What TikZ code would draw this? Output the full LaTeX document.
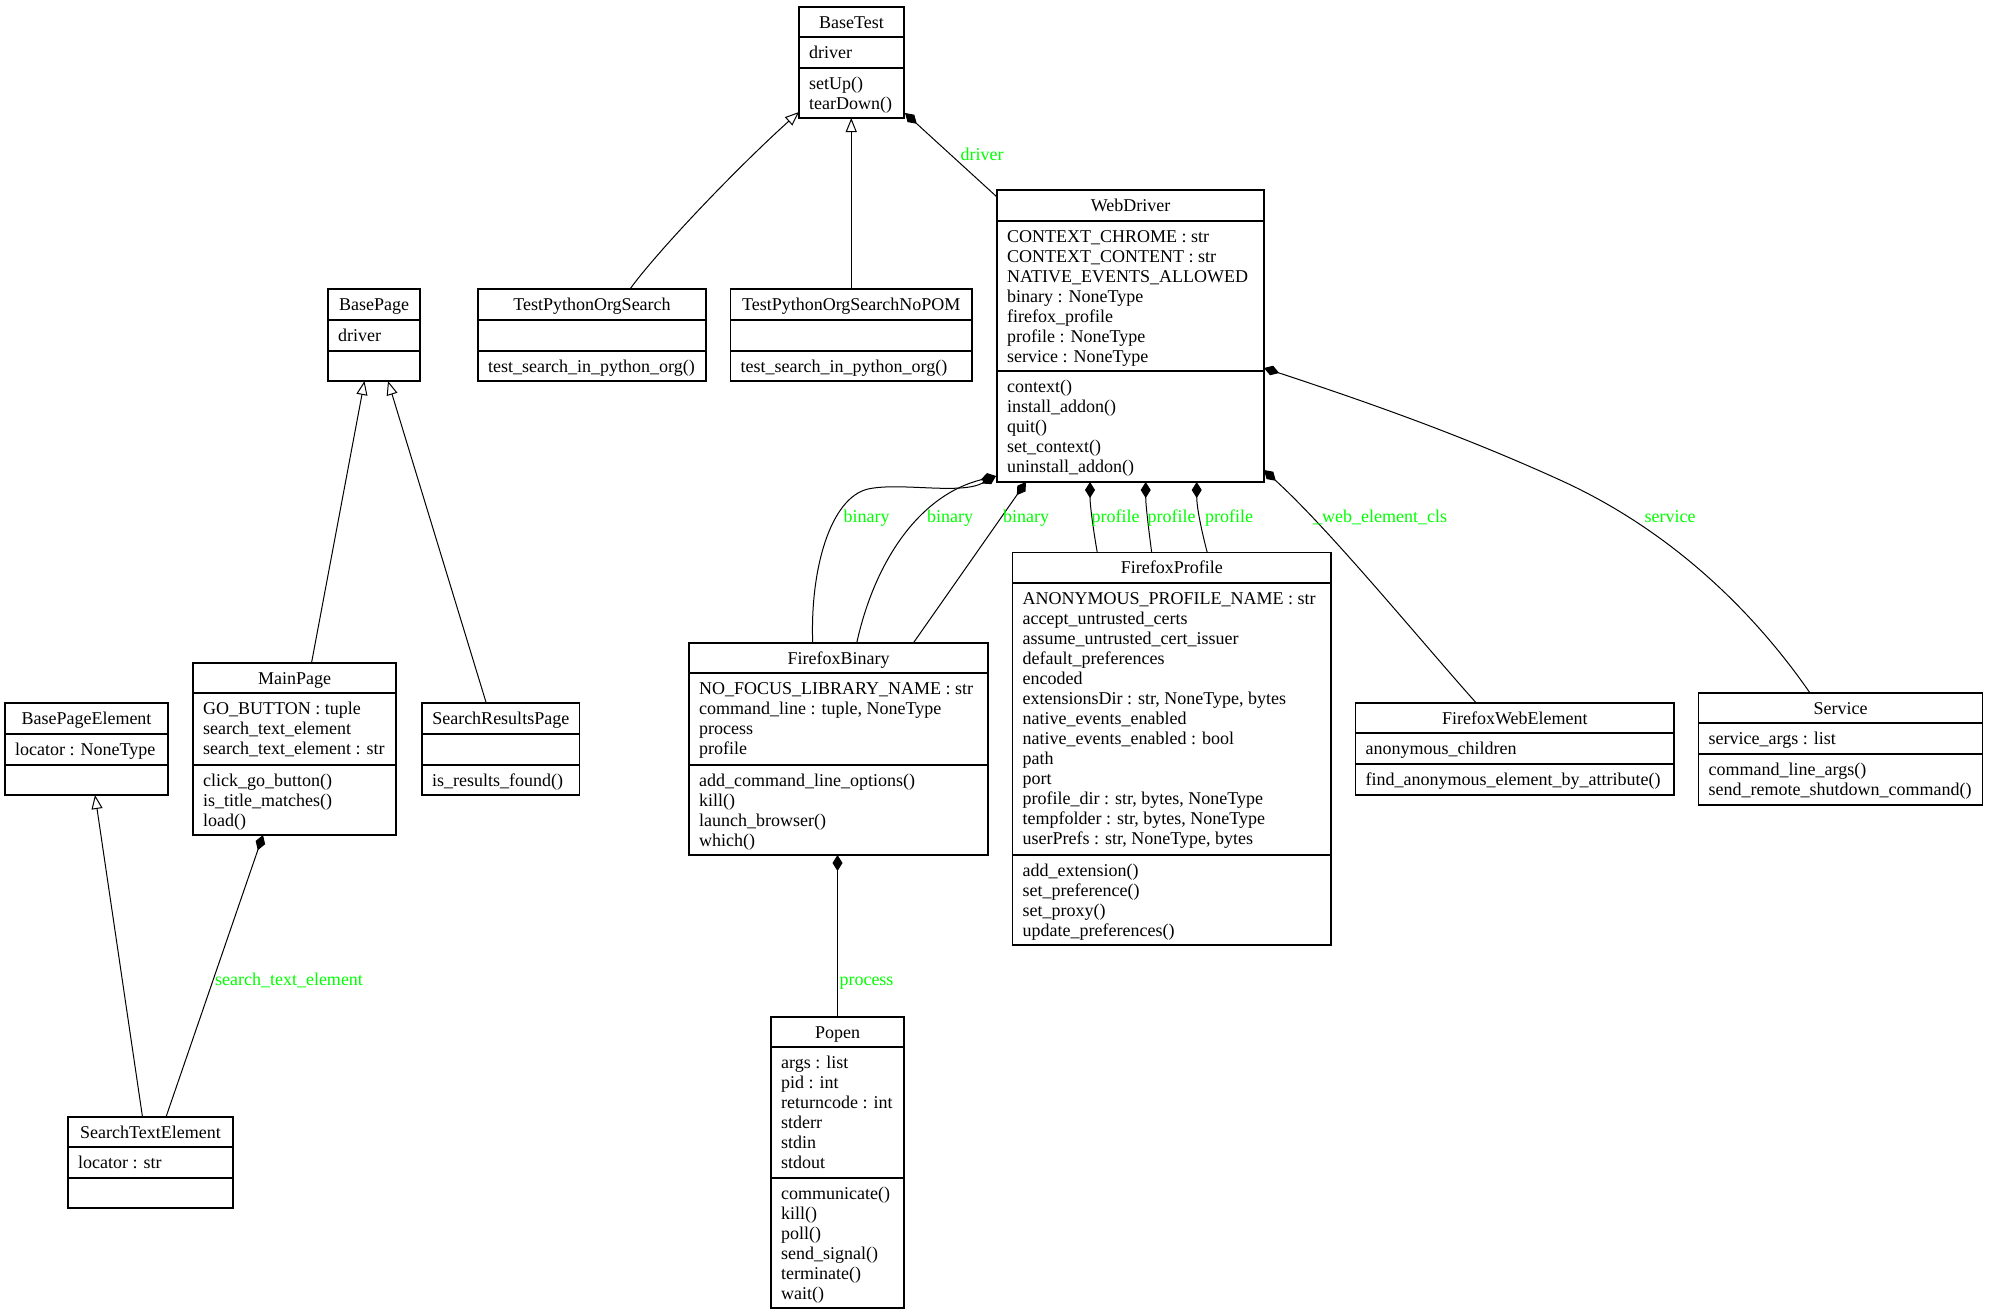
\documentclass[tikz,border=0pt]{standalone}
\usepackage{fontspec}
\setmainfont{Liberation Serif}
\usetikzlibrary{arrows.meta,calc}
\definecolor{lblgreen}{RGB}{0,255,0}
\tikzset{
  clsbox/.style={draw=black, line width=1.1pt, inner sep=0pt, outer sep=0pt, anchor=north west},
  clsline/.style={draw=black, line width=1.1pt},
  clstitle/.style={anchor=base, inner sep=0pt},
  clstext/.style={anchor=base west, inner sep=0pt},
  inherit/.style={draw=black, line width=1pt, -{Triangle[open,length=14pt,width=11pt]}},
  compose/.style={draw=black, line width=1pt, -{Diamond[length=16pt,width=10pt]}},
  elabel/.style={text=lblgreen, inner sep=0pt, anchor=base},
}
\newcommand\umlclass[6]{%
  \node[clsbox, minimum width=#4pt, minimum height=#5pt] (#1) at (#2,#3) {};
  \node[clstitle] (#1-title) at ($(#1.north)+(0,21)$) {#6};
}
\newcommand\umlsep[2]{\draw[clsline] ($(#1.north west)+(0,#2)$) -- ($(#1.north east)+(0,#2)$);}
\newcommand\umlrows[4]{%
  \foreach \t [count=\i from 0] in {#4} {\node[clstext] (#1-#2\i) at ($(#1.north west)+(10,{#3+20*\i})$) {\t};}
}
\begin{document}
\begin{tikzpicture}[x=1pt,y=-1pt,font=\fontsize{18}{20}\selectfont]
\useasboundingbox (0,0) rectangle (1992,1315);

% ---------- classes ----------
\umlclass{BaseTest}{799}{7}{105}{111}{BaseTest}
\umlsep{BaseTest}{30}\umlsep{BaseTest}{61}
\umlrows{BaseTest}{a}{51}{driver}
\umlrows{BaseTest}{m}{82}{setUp(), tearDown()}

\umlclass{WebDriver}{997}{190}{267}{292}{WebDriver}
\umlsep{WebDriver}{31}\umlsep{WebDriver}{181}
\umlrows{WebDriver}{a}{52}{CONTEXT\_CHROME : str, CONTEXT\_CONTENT : str, NATIVE\_EVENTS\_ALLOWED, binary : NoneType, firefox\_profile, profile : NoneType, service : NoneType}
\umlrows{WebDriver}{m}{202}{context(), install\_addon(), quit(), set\_context(), uninstall\_addon()}

\umlclass{BasePage}{328}{289}{92}{92}{BasePage}
\umlsep{BasePage}{31}\umlsep{BasePage}{62}
\umlrows{BasePage}{a}{52}{driver}

\umlclass{TPOS}{478}{289}{228}{92}{TestPythonOrgSearch}
\umlsep{TPOS}{31}\umlsep{TPOS}{62}
\umlrows{TPOS}{m}{83}{test\_search\_in\_python\_org()}

\umlclass{NoPOM}{730.5}{289}{241.5}{92}{TestPythonOrgSearchNoPOM}
\umlsep{NoPOM}{31}\umlsep{NoPOM}{62}
\umlrows{NoPOM}{m}{83}{test\_search\_in\_python\_org()}

\umlclass{MainPage}{193}{663}{203}{172}{MainPage}
\umlsep{MainPage}{30}\umlsep{MainPage}{102}
\umlrows{MainPage}{a}{51}{GO\_BUTTON : tuple, search\_text\_element, search\_text\_element : str}
\umlrows{MainPage}{m}{123}{click\_go\_button(), is\_title\_matches(), load()}

\umlclass{SRP}{422}{703}{157.5}{92}{SearchResultsPage}
\umlsep{SRP}{31}\umlsep{SRP}{62}
\umlrows{SRP}{m}{83}{is\_results\_found()}

\umlclass{BPE}{5}{703}{163}{92}{BasePageElement}
\umlsep{BPE}{31}\umlsep{BPE}{62}
\umlrows{BPE}{a}{52}{locator : NoneType}

\umlclass{STE}{68}{1117}{165}{91}{SearchTextElement}
\umlsep{STE}{30}\umlsep{STE}{61}
\umlrows{STE}{a}{51}{locator : str}

\umlclass{FB}{689}{643}{299}{212}{FirefoxBinary}
\umlsep{FB}{30}\umlsep{FB}{122}
\umlrows{FB}{a}{51}{NO\_FOCUS\_LIBRARY\_NAME : str, {command\_line : tuple, NoneType}, process, profile}
\umlrows{FB}{m}{143}{add\_command\_line\_options(), kill(), launch\_browser(), which()}

\umlclass{FP}{1012.5}{552.7}{318.5}{392.3}{FirefoxProfile}
\umlsep{FP}{30.3}\umlsep{FP}{302.3}
\umlrows{FP}{a}{51.3}{ANONYMOUS\_PROFILE\_NAME : str, accept\_untrusted\_certs, assume\_untrusted\_cert\_issuer, default\_preferences, encoded, {extensionsDir : str, NoneType, bytes}, native\_events\_enabled, native\_events\_enabled : bool, path, port, {profile\_dir : str, bytes, NoneType}, {tempfolder : str, bytes, NoneType}, {userPrefs : str, NoneType, bytes}}
\umlrows{FP}{m}{323.3}{add\_extension(), set\_preference(), set\_proxy(), update\_preferences()}

\umlclass{FWE}{1355.5}{703}{318.5}{92}{FirefoxWebElement}
\umlsep{FWE}{30}\umlsep{FWE}{61}
\umlrows{FWE}{a}{51}{anonymous\_children}
\umlrows{FWE}{m}{82}{find\_anonymous\_element\_by\_attribute()}

\umlclass{Service}{1698.5}{693}{284}{112}{Service}
\umlsep{Service}{30}\umlsep{Service}{61}
\umlrows{Service}{a}{51}{service\_args : list}
\umlrows{Service}{m}{82}{command\_line\_args(), send\_remote\_shutdown\_command()}

\umlclass{Popen}{771}{1017}{133}{291}{Popen}
\umlsep{Popen}{30}\umlsep{Popen}{161}
\umlrows{Popen}{a}{51}{args : list, pid : int, returncode : int, stderr, stdin, stdout}
\umlrows{Popen}{m}{182}{communicate(), kill(), poll(), send\_signal(), terminate(), wait()}

% ---------- connectors ----------
\draw[inherit] ($(TPOS.north)+(38,0)$) .. controls (660,248) and (740,165) .. ($(BaseTest.south west)+(0,-6)$);
\draw[inherit] (NoPOM.north) -- (NoPOM.north |- BaseTest.south);
\draw[compose] ($(WebDriver.north west)+(0,7)$) -- ($(BaseTest.south east)+(1,-5)$);
\node[elabel] (l-driver) at (982,160) {driver};

\draw[inherit] ($(MainPage.north)+(17,0)$) -- ($(BasePage.south)+(-9.5,0)$);
\draw[inherit] ($(SRP.north)+(-14.5,0)$) -- ($(BasePage.south)+(14,0)$);
\draw[inherit] ($(STE.north)+(-8,0)$) -- ($(BPE.south)+(8.5,0)$);
\draw[compose] ($(STE.north)+(15.5,0)$) -- ($(MainPage.south)+(-31.5,0)$);
\node[elabel] (l-ste) at (289,985) {search\_text\_element};

\draw[compose] (Popen.north) -- (Popen.north |- FB.south);
\node[elabel] (l-proc) at (866.5,985) {process};

\draw[compose] ($(FB.north)+(-25.8,0)$) .. controls (810,570) and (830,498) .. (868,489) .. controls (900,482) and (960,495) .. ($(WebDriver.south west)+(-1,-6)$);
\draw[compose] ($(FB.north)+(18.2,0)$) .. controls (875,560) and (920,495) .. ($(WebDriver.south west)+(-1,-6)$);
\draw[compose] ($(FB.north)+(74.8,0)$) -- ($(WebDriver.south west)+(29,0)$);
\node[elabel] (l-bin1) at (866.7,522) {binary};
\node[elabel] (l-bin2) at (950,522) {binary};
\node[elabel] (l-bin3) at (1026,522) {binary};

\draw[compose] ($(FP.north west)+(84.8,0)$) .. controls (1093,528) and (1090,505) .. ($(WebDriver.south west)+(93,0)$);
\draw[compose] ($(FP.north west)+(139.2,0)$) .. controls (1148.5,528) and (1145.7,505) .. ($(WebDriver.south west)+(148.7,0)$);
\draw[compose] ($(FP.north west)+(194.8,0)$) .. controls (1200,525) and (1196.7,505) .. ($(WebDriver.south west)+(199.7,0)$);
\node[elabel] (l-prof1) at (1115.7,522) {profile};
\node[elabel] (l-prof2) at (1171.7,522) {profile};
\node[elabel] (l-prof3) at (1229,522) {profile};

\draw[compose] ($(FWE.north)+(-38.5,0)$) .. controls (1420,640) and (1330,530) .. ($(WebDriver.south east)+(0,-12)$);
\node[elabel] (l-wec) at (1380,522) {\_web\_element\_cls};

\draw[compose] ($(Service.north)+(-30.5,0)$) .. controls (1770,635) and (1690,539) .. (1560,480) .. controls (1460,434.5) and (1364,401) .. ($(WebDriver.north east)+(0,178)$);
\node[elabel] (l-serv) at (1670,522) {service};
\end{tikzpicture}
\end{document}
